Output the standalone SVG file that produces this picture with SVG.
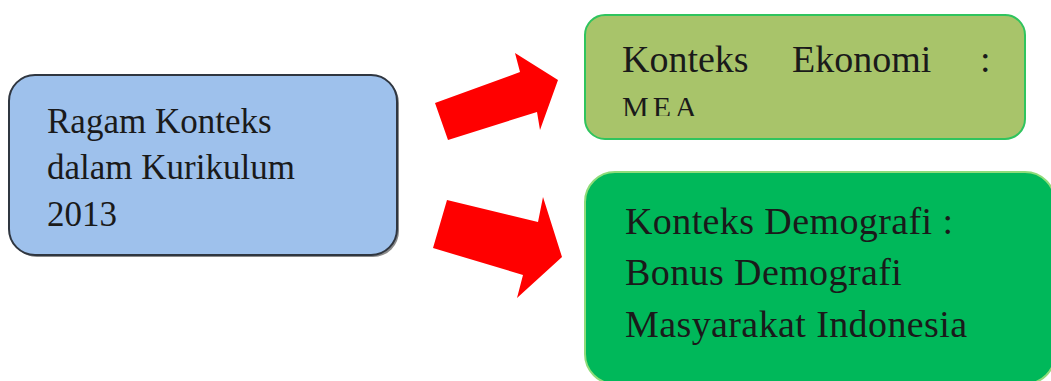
<svg xmlns="http://www.w3.org/2000/svg" width="1051" height="381" viewBox="0 0 1051 381">
<style>
.t{font-family:"Liberation Serif","Times New Roman",serif;fill:#1a1a1a}
.arrow{fill:#ff0000}
</style>
<defs>
<clipPath id="clipMEA"><rect x="600" y="85" width="200" height="31"/></clipPath>
</defs>
<rect width="1051" height="381" fill="#ffffff"/>
<g id="node-ragam">
<rect x="11" y="77" width="388" height="180" rx="26" fill="#8a8a8a"/>
<rect x="9" y="75" width="388" height="180" rx="26" fill="#9ec1ec" stroke="#2f3640" stroke-width="2"/>
<text class="t" font-size="35" x="47" y="133">Ragam Konteks</text>
<text class="t" font-size="35" x="47" y="179">dalam Kurikulum</text>
<text class="t" font-size="35" x="47" y="226">2013</text>
</g>
<g id="node-ekonomi">
<rect x="585" y="15" width="440" height="124" rx="20" fill="#a8c46a" stroke="#2fc45e" stroke-width="2"/>
<text class="t" font-size="38" x="622" y="72">Konteks</text>
<text class="t" font-size="38" x="792" y="72">Ekonomi</text>
<text class="t" font-size="38" x="980" y="72">:</text>
<text class="t" font-size="30" x="622" y="117" letter-spacing="4" clip-path="url(#clipMEA)">MEA</text>
</g>
<g id="node-demografi">
<rect x="585" y="172" width="470" height="212" rx="30" fill="#00b85a" stroke="#8fdc7a" stroke-width="2"/>
<text class="t" font-size="38" x="625" y="234" letter-spacing="0.4">Konteks Demografi :</text>
<text class="t" font-size="38" x="625" y="285" letter-spacing="0.4">Bonus Demografi</text>
<text class="t" font-size="38" x="625" y="337" letter-spacing="0.4">Masyarakat Indonesia</text>
</g>
<g id="connectors">
<polygon class="arrow" points="435,103 520,72 515,53 558,80 540,130 537,112 448,140"/>
<polygon class="arrow" points="447,200 538,222 543,197 562,257 517,298 523,275 433,248"/>
</g>
</svg>
